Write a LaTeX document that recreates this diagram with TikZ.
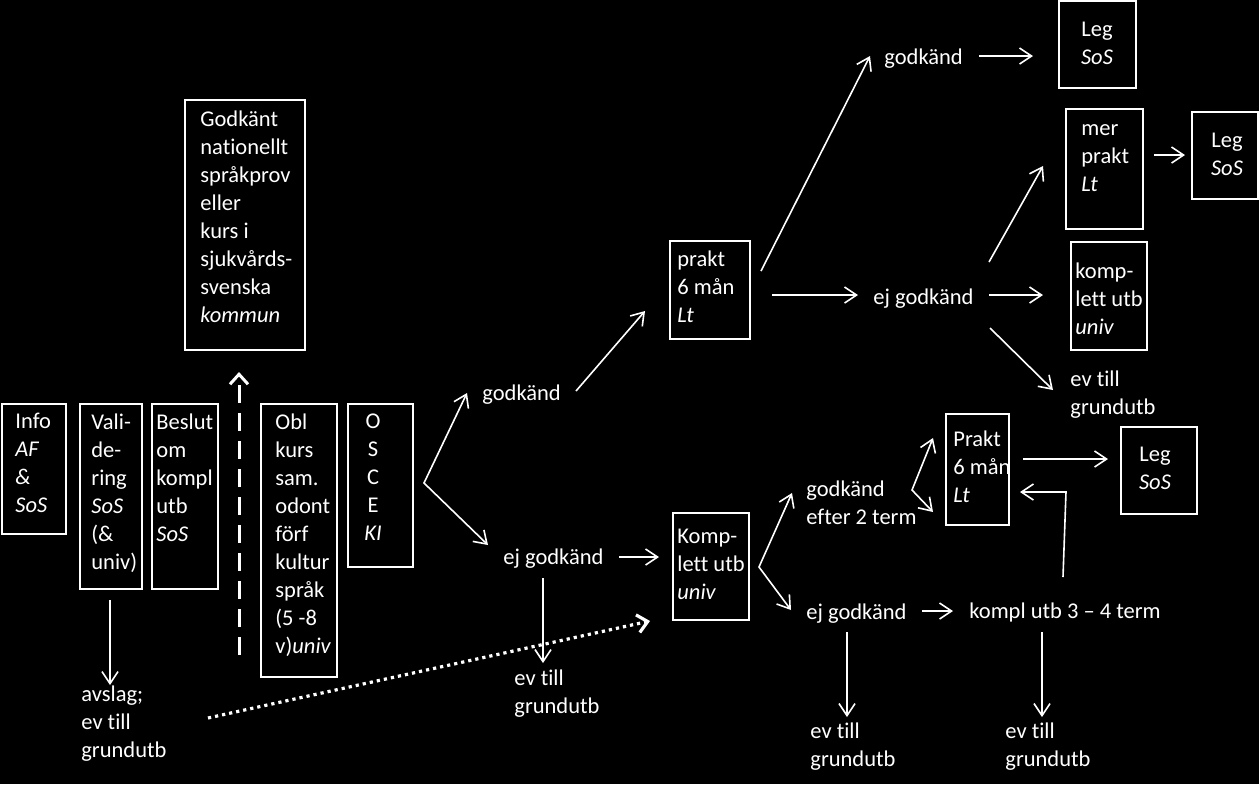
\documentclass[tikz,border=0pt]{standalone}
\usepackage{fontspec}
\setmainfont{Carlito}[Ligatures=NoCommon]
\usetikzlibrary{arrows.meta}
\newcommand{\dfont}{\fontsize{11.25}{14}\selectfont}
\tikzset{
  box/.style={draw=white, line width=1pt, inner sep=0pt, outer sep=0pt, anchor=north west, fill=none},
  txt/.style={text=white, font=\dfont, align=left, inner sep=0pt, anchor=north west, execute at begin node={\strut}},
  ctxt/.style={txt, align=center, anchor=north},
  arr/.style={draw=white, line width=0.8pt, -{Straight Barb[length=6pt, width=8pt]}},
  darr/.style={draw=white, line width=0.8pt, {Straight Barb[length=6pt, width=8pt]}-{Straight Barb[length=6pt, width=8pt]}},
  dasharr/.style={draw=white, line width=1.5pt, dash pattern=on 9pt off 5pt, -{Straight Barb[length=5pt, width=9pt]}},
  dotarr/.style={draw=white, line width=1.6pt, dash pattern=on 1.6pt off 2pt, -{Straight Barb[length=5pt, width=9pt]}}
}
\begin{document}
\begin{tikzpicture}[x=0.5pt, y=-0.5pt]
\fill[black] (0,0) rectangle (1259,784);
\useasboundingbox (0,0) rectangle (1259,784);

% boxes
\node[box, minimum width=32pt, minimum height=65pt] (info) at (2,404) {};
\node[box, minimum width=31pt, minimum height=92.5pt] (valid) at (80,404) {};
\node[box, minimum width=33pt, minimum height=92.5pt] (beslut) at (152,404) {};
\node[box, minimum width=38pt, minimum height=136.5pt] (obl) at (261,404) {};
\node[box, minimum width=32.5pt, minimum height=81.5pt] (osce) at (348,404) {};
\node[box, minimum width=60pt, minimum height=125pt] (godk) at (185,100) {};
\node[box, minimum width=38pt, minimum height=53.5pt] (kompl) at (673,513) {};
\node[box, minimum width=40pt, minimum height=49pt] (prakt) at (670,241) {};
\node[box, minimum width=38.5pt, minimum height=43.5pt] (legA) at (1059,1) {};
\node[box, minimum width=38.5pt, minimum height=60pt] (merprakt) at (1066,109) {};
\node[box, minimum width=33pt, minimum height=43.5pt] (legB) at (1192,112) {};
\node[box, minimum width=38pt, minimum height=54pt] (komplB) at (1071,242) {};
\node[box, minimum width=31.5pt, minimum height=55.5pt] (praktB) at (946,414) {};
\node[box, minimum width=38pt, minimum height=43.5pt] (legC) at (1121,427) {};

% texts
\node[txt] (tinfo) at (15,413) {Info\\\textit{AF}\\\textit{\&}\\\textit{SoS}};
\node[txt] (tvalid) at (91,413) {Vali-\\de-\\ring\\\textit{SoS}\\(\&\\univ)};
\node[txt] (tbeslut) at (156,413) {Beslut\\om\\kompl\\utb\\\textit{SoS}};
\node[txt] (tobl) at (275,413) {Obl\\kurs\\sam.\\odont\\förf\\kultur\\språk\\(5 -8\\v)\textit{univ}};
\node[ctxt] (tosce) at (373,413) {O\\S\\C\\E\\\textit{KI}};
\node[txt] (tgodk) at (200,110) {Godkänt\\nationellt\\språkprov\\eller\\kurs i\\sjukvårds-\\svenska\\\textit{kommun}};
\node[txt] (tavslag) at (81,685) {avslag;\\ev till\\grundutb};
\node[txt] (gA) at (482,380) {godkänd};
\node[txt] (ejA) at (503,544) {ej godkänd};
\node[txt] (evA) at (514,669) {ev till\\grundutb};
\node[txt] (tkompl) at (677,529) {Komp-\\lett utb\\\textit{univ}};
\node[txt] (tprakt) at (677,250) {prakt\\6 mån\\\textit{Lt}};
\node[txt] (gB) at (884,44) {godkänd};
\node[txt] (ejB) at (873,284) {ej godkänd};
\node[ctxt] (tlegA) at (1097,22) {Leg\\\textit{SoS}};
\node[txt] (tmer) at (1081,124) {mer\\prakt\\\textit{Lt}};
\node[ctxt] (tlegB) at (1227,133) {Leg\\\textit{SoS}};
\node[txt] (tkomplB) at (1075,262) {komp-\\lett utb\\\textit{univ}};
\node[txt] (evB) at (1070,370) {ev till\\grundutb};
\node[txt] (gC) at (806,480) {godkänd\\efter 2 term};
\node[txt] (tpraktB) at (953,430) {Prakt\\6 mån\\\textit{Lt}};
\node[ctxt] (tlegC) at (1155,447) {Leg\\\textit{SoS}};
\node[txt] (ejC) at (806,599) {ej godkänd};
\node[txt] (k34) at (969,598) {kompl utb 3 – 4 term};
\node[txt] (evC) at (810,722) {ev till\\grundutb};
\node[txt] (evD) at (1005,722) {ev till\\grundutb};

% connector end points
\coordinate (c1a) at (110,600); \coordinate (c1b) at (110,685);
\coordinate (c2a) at (239,655); \coordinate (c2b) at (239,372);
\coordinate (c3a) at (208,718); \coordinate (c3b) at (650,621);
\coordinate (f1u) at (467,393); \coordinate (f1v) at (424,483); \coordinate (f1d) at (488,545);
\coordinate (c5a) at (576,391); \coordinate (c5b) at (645,311);
\coordinate (c6a) at (619,557); \coordinate (c6b) at (659,557);
\coordinate (c7a) at (543,578); \coordinate (c7b) at (543,663);
\coordinate (c8a) at (761,271); \coordinate (c8b) at (870,56);
\coordinate (c9a) at (772,295); \coordinate (c9b) at (858,295);
\coordinate (c10a) at (979,56); \coordinate (c10b) at (1033,56);
\coordinate (c11a) at (989,262); \coordinate (c11b) at (1043,166);
\coordinate (c12a) at (989,295); \coordinate (c12b) at (1043,295);
\coordinate (c13a) at (990,328); \coordinate (c13b) at (1053,390);
\coordinate (c14a) at (1154,155); \coordinate (c14b) at (1185,155);
\coordinate (f2u) at (792,493); \coordinate (f2v) at (759,567); \coordinate (f2d) at (791,610);
\coordinate (f3u) at (933,438); \coordinate (f3v) at (912,490); \coordinate (f3d) at (933,512);
\coordinate (c17a) at (1023,459); \coordinate (c17b) at (1108,459);
\coordinate (c18a) at (1063,577); \coordinate (c18m) at (1066,492); \coordinate (c18b) at (1020,492);
\coordinate (c19a) at (922,611); \coordinate (c19b) at (953,611);
\coordinate (c20a) at (847,632); \coordinate (c20b) at (847,717);
\coordinate (c21a) at (1042,632); \coordinate (c21b) at (1042,717);

% connectors
\draw[arr] (c1a) -- (c1b);
\draw[dasharr] (c2a) -- (c2b);
\draw[dotarr] (c3a) -- (c3b);
\draw[darr] (f1u) -- (f1v) -- (f1d);
\draw[arr] (c5a) -- (c5b);
\draw[arr] (c6a) -- (c6b);
\draw[arr] (c7a) -- (c7b);
\draw[arr] (c8a) -- (c8b);
\draw[arr] (c9a) -- (c9b);
\draw[arr] (c10a) -- (c10b);
\draw[arr] (c11a) -- (c11b);
\draw[arr] (c12a) -- (c12b);
\draw[arr] (c13a) -- (c13b);
\draw[arr] (c14a) -- (c14b);
\draw[darr] (f2u) -- (f2v) -- (f2d);
\draw[darr] (f3u) -- (f3v) -- (f3d);
\draw[arr] (c17a) -- (c17b);
\draw[arr] (c18a) -- (c18m) -- (c18b);
\draw[arr] (c19a) -- (c19b);
\draw[arr] (c20a) -- (c20b);
\draw[arr] (c21a) -- (c21b);
\end{tikzpicture}
\end{document}
